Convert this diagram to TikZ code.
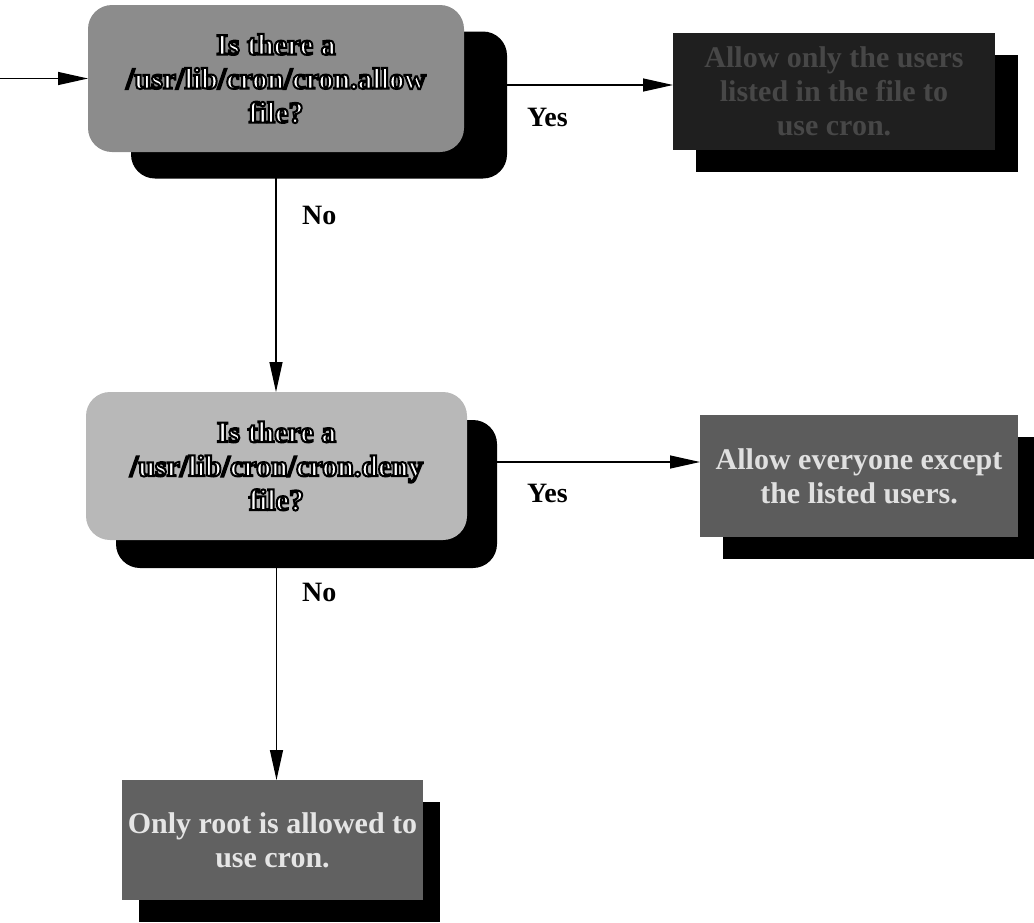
\documentclass[tikz,border=0pt]{standalone}
\usepackage{fontspec}
\setmainfont{Liberation Serif}
\usetikzlibrary{arrows.meta,backgrounds}

\definecolor{decA}{gray}{0.55}
\definecolor{decB}{gray}{0.72}
\definecolor{procA}{gray}{0.12}
\definecolor{procB}{gray}{0.36}
\definecolor{procC}{gray}{0.38}

% white letters with a black rim: fill-and-stroke text rendering
\newcommand\rimtext[1]{\special{pdf:literal direct 0 G 2 Tr 2 w}#1\special{pdf:literal direct 0 Tr}}

\tikzset{
  shadowbox/.style={fill=black, draw=none, inner sep=0pt, outer sep=0pt},
  frontbox/.style={draw=none, inner sep=0pt, outer sep=0pt, align=center,
    font=\bfseries\fontsize{30}{34}\selectfont},
  decision/.style={rounded corners=24pt},
  arr/.style={draw=black, line width=1.3pt, -{Triangle[length=30pt,width=13pt]}},
  lbl/.style={font=\bfseries\fontsize{28}{32}\selectfont, inner sep=0pt, anchor=west}
}

\begin{document}
\begin{tikzpicture}[x=1pt,y=-1pt]
\useasboundingbox (0,0) rectangle (1034,922);

% first test: cron.allow
\node[shadowbox, decision, minimum width=376pt, minimum height=147pt] (tAsh) at (319,105) {};
\node[frontbox, decision, fill=decA, text=white, minimum width=376pt, minimum height=147pt] (tA) at (276,78.5)
  {\rimtext{Is there a}\\\rimtext{/usr/lib/cron/cron.allow}\\\rimtext{file?}};

% result of the first test
\node[shadowbox, minimum width=322pt, minimum height=117pt] (rAsh) at (857,113.5) {};
\node[frontbox, fill=procA, text=black!72, minimum width=322pt, minimum height=117pt] (rA) at (834,91.5)
  {Allow only the users\\listed in the file to\\use cron.};

% second test: cron.deny
\node[shadowbox, decision, minimum width=381pt, minimum height=148pt] (tBsh) at (306.5,494) {};
\node[frontbox, decision, fill=decB, text=white, minimum width=381pt, minimum height=148pt] (tB) at (276.5,466)
  {\rimtext{Is there a}\\\rimtext{/usr/lib/cron/cron.deny}\\\rimtext{file?}};

% result of the second test
\node[shadowbox, minimum width=318pt, minimum height=122pt] (rBsh) at (882,498) {};
\node[frontbox, fill=procB, text=black!12, minimum width=318pt, minimum height=122pt] (rB) at (859,476)
  {Allow everyone except\\the listed users.};

% neither file present
\node[shadowbox, minimum width=301pt, minimum height=120pt] (bCsh) at (289.5,862) {};
\node[frontbox, fill=procC, text=black!10, minimum width=301pt, minimum height=120pt] (bC) at (272.5,840)
  {Only root is allowed to\\use cron.};

% branch labels
\node[lbl] (yes1) at (527,117) {Yes};
\node[lbl] (no1) at (302,215) {No};
\node[lbl] (yes2) at (527,493) {Yes};
\node[lbl] (no2) at (302,592) {No};

% connectors
\coordinate (start) at (0,78.5);
\coordinate (rAin) at ([yshift=6.5pt]rA.west);
\coordinate (rBin) at ([yshift=14pt]rB.west);
\begin{pgfonlayer}{background}
\draw[arr] (start) -- (tA.west);
\draw[arr] (tAsh.east |- rAin) -- (rAin);
\draw[arr] (tA.south) -- (tA.south |- tB.north);
\draw[arr] (tBsh.east |- rBin) -- (rBin);
\draw[arr] (tB.south) -- (tB.south |- bC.north);
\end{pgfonlayer}
\end{tikzpicture}
\end{document}
